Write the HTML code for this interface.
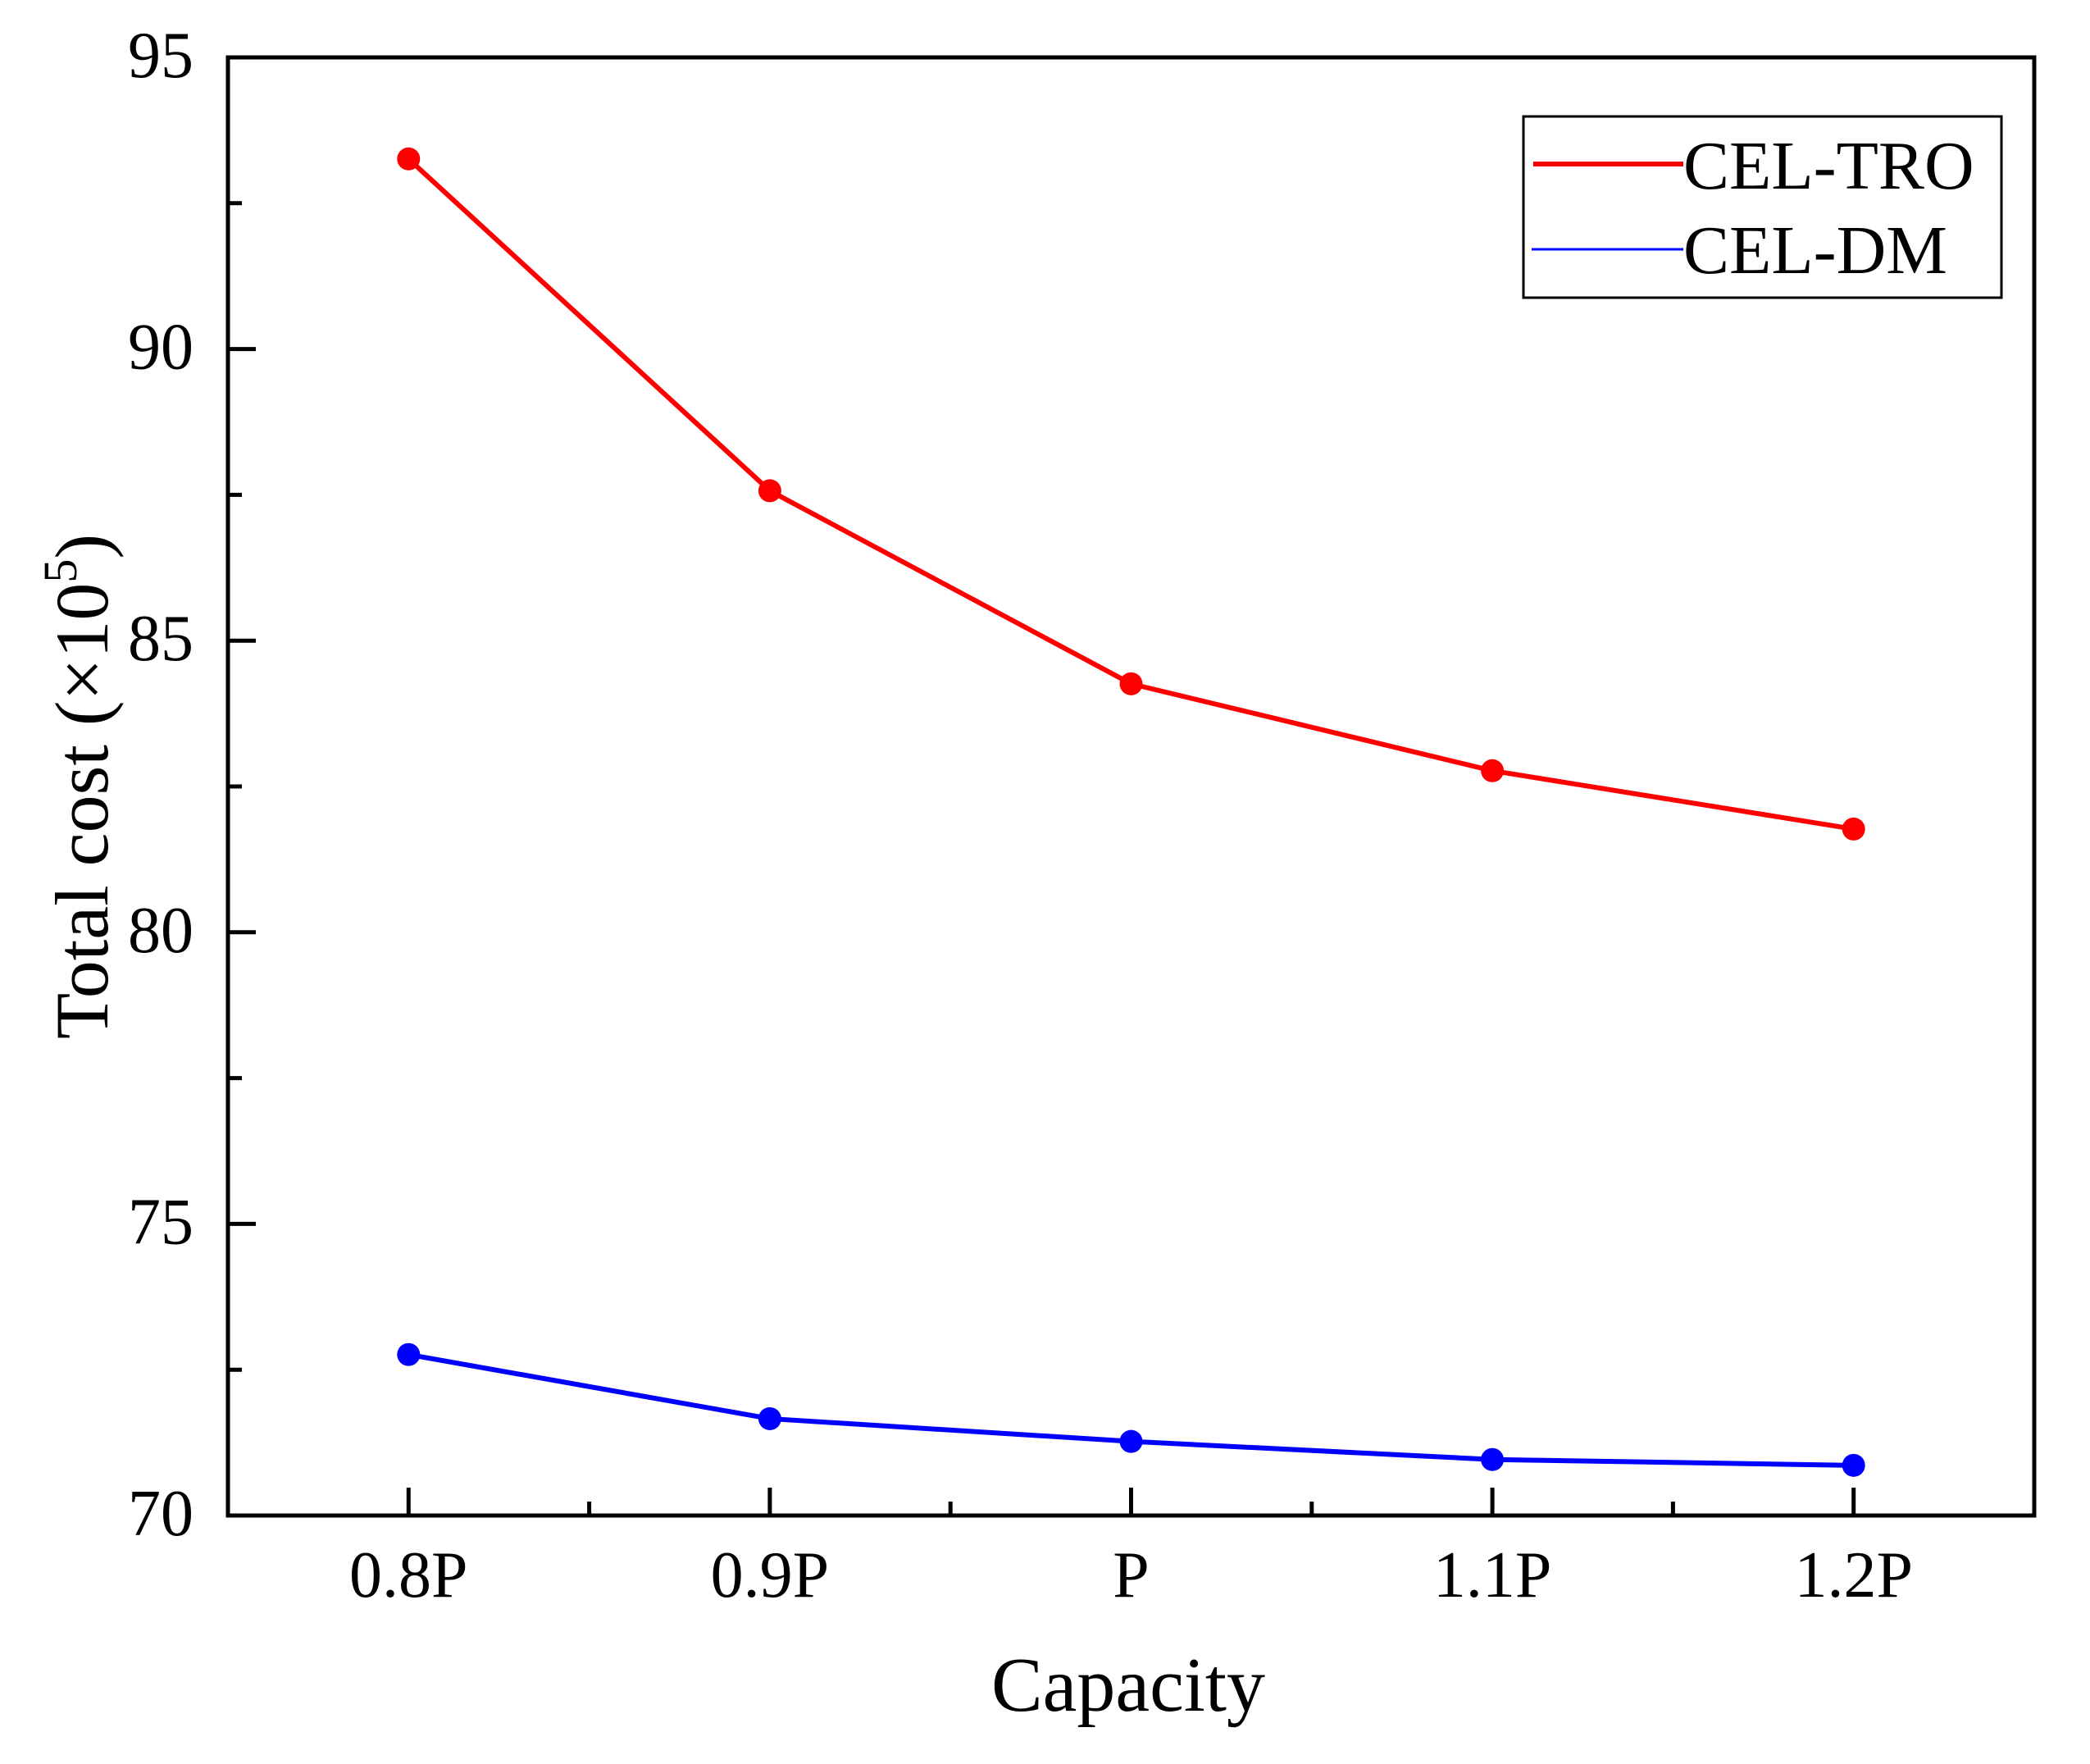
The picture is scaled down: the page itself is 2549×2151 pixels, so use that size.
<!DOCTYPE html>
<html><head><meta charset="utf-8"><style>
html,body{margin:0;padding:0;background:#fff;}
svg text{font-family:"Liberation Serif",serif;fill:#000;}
</style></head><body>
<svg id="chart" width="2549" height="2146" viewBox="0 0 2549 2146" xmlns="http://www.w3.org/2000/svg">
<rect x="0" y="0" width="2549" height="2146" fill="#fff"/>
<g id="marks"></g>
<g id="axes"></g>
<text x="1376" y="2086" font-size="94" text-anchor="middle">Capacity</text>
<text transform="translate(131,959) rotate(-90)" font-size="92" text-anchor="middle">Total cost (×10<tspan font-size="58" dy="-38">5</tspan><tspan dy="38">)</tspan></text>
<g>
<rect x="1858" y="142" width="583" height="221" fill="#fff" stroke="#000" stroke-width="3"/>
<line x1="1870" y1="200" x2="2053" y2="200" stroke="#ff0000" stroke-width="6"/>
<text x="2053" y="230" font-size="84">CEL-TRO</text>
<line x1="1868" y1="304" x2="2053" y2="304" stroke="#0000ff" stroke-width="3"/>
<text x="2053" y="333" font-size="84">CEL-DM</text>
</g>
</svg>
<script>
const categories = ["0.8P","0.9P","P","1.1P","1.2P"];
const celTro = [93.26, 87.57, 84.26, 82.77, 81.77];
const celDm = [72.76, 71.66, 71.27, 70.96, 70.86];
const yTicks = [70, 75, 80, 85, 90, 95];
const yMinorTicks = [72.5, 77.5, 82.5, 87.5, 92.5];

const NS = "http://www.w3.org/2000/svg";
const L = 278, R = 2481, T = 70, B = 1848;
const yMin = 70, yMax = 95;
function xScale(i){ return L + (i + 0.5) / categories.length * (R - L); }
function yScale(v){ return B - (v - yMin) / (yMax - yMin) * (B - T); }
function mk(tag, attrs, parent){
  const e = document.createElementNS(NS, tag);
  for (const k in attrs) e.setAttribute(k, attrs[k]);
  parent.appendChild(e);
  return e;
}
const axes = document.getElementById('axes');
const marks = document.getElementById('marks');

const frame = mk('rect', {x:L, y:T, width:R-L, height:B-T, fill:'none', stroke:'#000', 'stroke-width':5}, axes);



yTicks.forEach(v => {
  const y = yScale(v);
  const t = mk('line', {x1:L, y1:y, x2:L+34, y2:y, stroke:'#000', 'stroke-width':5}, axes);
  
  
  const lb = mk('text', {x:236, y:y+24, 'font-size':80, 'text-anchor':'end'}, axes);
  lb.textContent = v;
  
  
});
yMinorTicks.forEach(v => {
  const y = yScale(v);
  const t = mk('line', {x1:L, y1:y, x2:L+17, y2:y, stroke:'#000', 'stroke-width':5}, axes);
  
  
});
categories.forEach((c, i) => {
  const x = xScale(i);
  const t = mk('line', {x1:x, y1:B, x2:x, y2:B-34, stroke:'#000', 'stroke-width':5}, axes);
  
  
  const lb = mk('text', {x:x, y:1947, 'font-size':80, 'text-anchor':'middle'}, axes);
  lb.textContent = c;
  
  
  if (i < categories.length - 1) {
    const xm = xScale(i + 0.5);
    const m = mk('line', {x1:xm, y1:B, x2:xm, y2:B-17, stroke:'#000', 'stroke-width':5}, axes);
    
    
  }
});

function drawSeries(vals, color, name){
  const pts = vals.map((v, i) => xScale(i) + ',' + yScale(v)).join(' ');
  const pl = mk('polyline', {points:pts, fill:'none', stroke:color, 'stroke-width':6, 'stroke-linejoin':'round'}, marks);
  
  
  vals.forEach((v, i) => {
    const c = mk('circle', {cx:xScale(i), cy:yScale(v), r:14, fill:color}, marks);
    
    
  });
}
drawSeries(celTro, '#ff0000', 'cel-tro');
drawSeries(celDm, '#0000ff', 'cel-dm');
</script>
</body></html>
